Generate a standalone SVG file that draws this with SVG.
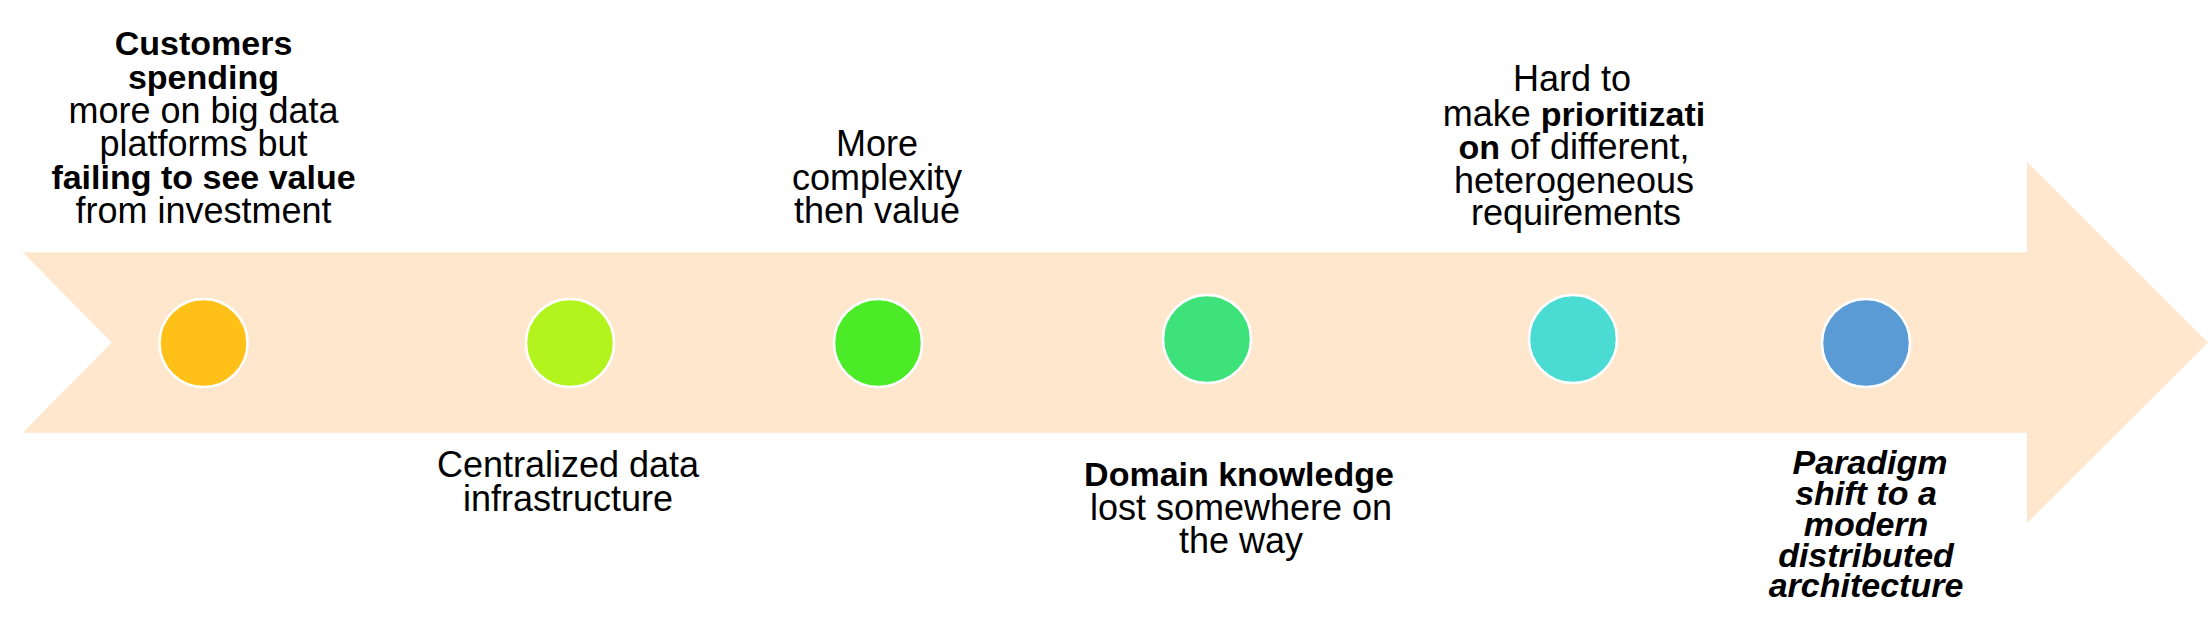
<svg xmlns="http://www.w3.org/2000/svg" width="2212" height="618" viewBox="0 0 2212 618">
  <style>
    text { font-family: "Liberation Sans", Arial, sans-serif; fill: #000; text-anchor: middle; }
    .r { font-size: 36px; }
    .b { font-weight: bold; font-size: 34px; }
    .bi { font-size: 34px; font-weight: bold; font-style: italic; }
    .dot { stroke: #ffffff; stroke-width: 2.5; }
  </style>
  <rect width="2212" height="618" fill="#ffffff"/>
  <g id="timeline-arrow">
    <polygon points="22.7,252.3 2027,252.3 2027,162 2208,342.5 2027,523 2027,432.7 22.7,432.7 111.7,342.5" fill="#FEE7CD"/>
  </g>
  <g id="connectors"></g>
  <g id="node1">
    <circle class="dot" cx="203.5" cy="343" r="44" fill="#FFC117"/>
    <text class="b" x="203.5" y="55">Customers</text>
    <text class="b" x="203.5" y="89">spending</text>
    <text class="r" x="203.5" y="123">more on big data</text>
    <text class="r" x="203.5" y="156">platforms but</text>
    <text class="b" x="203.5" y="189">failing to see value</text>
    <text class="r" x="203.5" y="223">from investment</text>
  </g>
  <g id="node2">
    <circle class="dot" cx="570" cy="343" r="44" fill="#B3F41F"/>
    <text class="r" x="568" y="477">Centralized data</text>
    <text class="r" x="568" y="511">infrastructure</text>
  </g>
  <g id="node3">
    <circle class="dot" cx="878" cy="343" r="44" fill="#4BEB28"/>
    <text class="r" x="877" y="156">More</text>
    <text class="r" x="877" y="190">complexity</text>
    <text class="r" x="877" y="223">then value</text>
  </g>
  <g id="node4">
    <circle class="dot" cx="1207" cy="339" r="44" fill="#3DE27B"/>
    <text class="b" x="1239" y="486">Domain knowledge</text>
    <text class="r" x="1241" y="520">lost somewhere on</text>
    <text class="r" x="1241" y="553">the way</text>
  </g>
  <g id="node5">
    <circle class="dot" cx="1573" cy="339" r="44" fill="#4ADCD2"/>
    <text class="r" x="1572" y="91">Hard to</text>
    <text class="r" x="1574" y="126">make <tspan class="b">prioritizati</tspan></text>
    <text class="r" x="1574" y="159"><tspan class="b">on</tspan> of different,</text>
    <text class="r" x="1574" y="193">heterogeneous</text>
    <text class="r" x="1576" y="225">requirements</text>
  </g>
  <g id="node6">
    <circle class="dot" cx="1866" cy="343" r="44" fill="#5B9BD5"/>
    <text class="bi" x="1870" y="474">Paradigm</text>
    <text class="bi" x="1866" y="505">shift to a</text>
    <text class="bi" x="1866" y="536">modern</text>
    <text class="bi" x="1866" y="567">distributed</text>
    <text class="bi" x="1866" y="597">architecture</text>
  </g>
</svg>
